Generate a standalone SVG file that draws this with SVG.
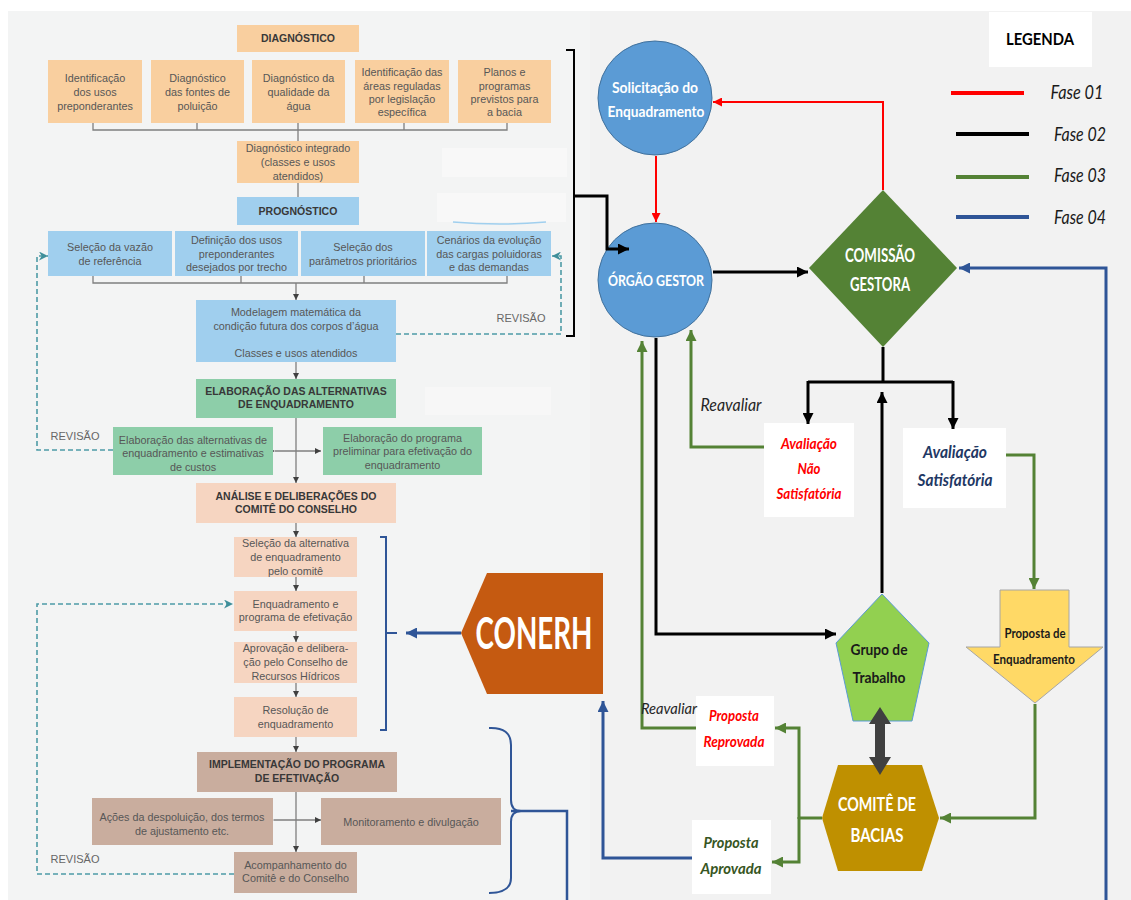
<svg xmlns="http://www.w3.org/2000/svg" width="1131" height="900" viewBox="0 0 1131 900">
  <defs>
    <style>
      .lp { font-family: "Liberation Sans", Arial, sans-serif; font-size: 10.8px; fill: #575757; text-anchor: middle; }
      .lh { font-family: "Liberation Sans", Arial, sans-serif; font-size: 10.5px; font-weight: bold; fill: #383838; text-anchor: middle; }
      .rev { font-family: "Liberation Sans", Arial, sans-serif; font-size: 11px; fill: #666; text-anchor: middle; }
      .rt { font-family: Lato, "Open Sans", sans-serif; font-weight: bold; text-anchor: middle; }
      .ri { font-family: Lato, "Open Sans", sans-serif; font-style: italic; text-anchor: middle; }
      .org { fill: #f9cf9f; }
      .blu { fill: #a0cfee; }
      .grn { fill: #8dcea9; }
      .pch { fill: #f6d5c1; }
      .brn { fill: #c9ad9e; }
      .wbox { fill: #ffffff; }
      .gline { fill: none; stroke: #7f7f7f; stroke-width: 1.3; }
      .dash { fill: none; stroke: #4e9ba6; stroke-width: 1.6; stroke-dasharray: 5 3; }
      .red { fill: none; stroke: #ff0000; stroke-width: 2; }
      .blk { fill: none; stroke: #000000; stroke-width: 3; }
      .grl { fill: none; stroke: #548235; stroke-width: 3; }
      .bll { fill: none; stroke: #2f5597; stroke-width: 3; }
    </style>
    <marker id="ag" viewBox="0 0 10 10" refX="10" refY="5" markerWidth="6" markerHeight="6" orient="auto" markerUnits="userSpaceOnUse">
      <path d="M0,0 L10,5 L0,10 z" fill="#404040"/>
    </marker>
    <marker id="ags" viewBox="0 0 10 10" refX="0" refY="5" markerWidth="6" markerHeight="6" orient="auto-start-reverse" markerUnits="userSpaceOnUse">
      <path d="M10,0 L0,5 L10,10 z" fill="#404040"/>
    </marker>
    <marker id="at" viewBox="0 0 10 10" refX="10" refY="5" markerWidth="9" markerHeight="9" orient="auto" markerUnits="userSpaceOnUse">
      <path d="M0,0 L10,5 L0,10 L3,5 z" fill="#3f8f9a"/>
    </marker>
    <marker id="ar" viewBox="0 0 10 10" refX="10" refY="5" markerWidth="9" markerHeight="9" orient="auto" markerUnits="userSpaceOnUse">
      <path d="M0,0 L10,5 L0,10 z" fill="#ff0000"/>
    </marker>
    <marker id="ak" viewBox="0 0 10 10" refX="10" refY="5" markerWidth="11" markerHeight="11" orient="auto" markerUnits="userSpaceOnUse">
      <path d="M0,0 L10,5 L0,10 z" fill="#000000"/>
    </marker>
    <marker id="agr" viewBox="0 0 10 10" refX="10" refY="5" markerWidth="11" markerHeight="11" orient="auto" markerUnits="userSpaceOnUse">
      <path d="M0,0 L10,5 L0,10 z" fill="#548235"/>
    </marker>
    <marker id="abl" viewBox="0 0 10 10" refX="10" refY="5" markerWidth="11" markerHeight="11" orient="auto" markerUnits="userSpaceOnUse">
      <path d="M0,0 L10,5 L0,10 z" fill="#2f5597"/>
    </marker>
  </defs>

  <!-- page -->
  <rect x="0" y="0" width="1131" height="900" fill="#ffffff"/>
  <rect x="8" y="11" width="1123" height="889" fill="#f2f2f2"/>
  <rect x="8" y="11" width="582" height="889" fill="#f3f4f4"/>
  <!-- faint leftover panels -->
  <rect x="442" y="148" width="125" height="29" fill="#f8f8f8"/>
  <rect x="437" y="193" width="129" height="29" fill="#f8f8f8"/>
  <path d="M453,222 Q500,226 546,222" fill="none" stroke="#a0cfee" stroke-width="1.5"/>
  <rect x="425" y="387" width="126" height="28" fill="#f7f7f7"/>

  <!-- ===== left column: process flow ===== -->
  <g id="connectors-left">
    <path class="gline" d="M93,123 V130 H507 V123 M197,123 V130 M404,123 V130 M298,123 V141"/>
    <path class="gline" d="M298,183 V197"/>
    <path class="gline" d="M93,276 V283 H507 V276 M241,276 V283 M364,276 V283"/>
    <path class="gline" d="M296,283 V300" marker-end="url(#ag)"/>
    <path class="gline" d="M296,362 V379" marker-end="url(#ag)"/>
    <path class="gline" d="M296,418 V483" marker-end="url(#ag)"/>
    <path class="gline" d="M275,451 H321" marker-start="url(#ags)" marker-end="url(#ag)"/>
    <path class="gline" d="M296,523 V537" marker-end="url(#ag)"/>
    <path class="gline" d="M296,577 V591" marker-end="url(#ag)"/>
    <path class="gline" d="M296,631 V642" marker-end="url(#ag)"/>
    <path class="gline" d="M296,683 V697" marker-end="url(#ag)"/>
    <path class="gline" d="M296,737 V752" marker-end="url(#ag)"/>
    <path class="gline" d="M296,792 V852" marker-end="url(#ag)"/>
    <path class="gline" d="M274,820 H321" marker-start="url(#ags)" marker-end="url(#ag)"/>
    <!-- revision loops -->
    <path class="dash" d="M396,334 H561 V256 H552" marker-end="url(#at)"/>
    <path class="dash" d="M113,450 H37 V256 H48" marker-end="url(#at)"/>
    <path class="dash" d="M234,874 H37 V604 H233" marker-end="url(#at)"/>
  </g>

  <g id="diagnostico">
    <rect class="org" x="237" y="25" width="122" height="27"/>
    <text class="lh" x="298" y="42">DIAGNÓSTICO</text>
  </g>
  <g id="identificacao-usos">
    <rect class="org" x="48" y="60" width="94" height="63"/>
    <text class="lp" x="95" y="82">Identificação</text>
    <text class="lp" x="95" y="96">dos usos</text>
    <text class="lp" x="95" y="110">preponderantes</text>
  </g>
  <g id="fontes-poluicao">
    <rect class="org" x="151" y="60" width="93" height="63"/>
    <text class="lp" x="197.5" y="82">Diagnóstico</text>
    <text class="lp" x="197.5" y="96">das fontes de</text>
    <text class="lp" x="197.5" y="110">poluição</text>
  </g>
  <g id="qualidade-agua">
    <rect class="org" x="252" y="60" width="93" height="63"/>
    <text class="lp" x="298.5" y="82">Diagnóstico da</text>
    <text class="lp" x="298.5" y="96">qualidade da</text>
    <text class="lp" x="298.5" y="110">água</text>
  </g>
  <g id="areas-reguladas">
    <rect class="org" x="355" y="60" width="94" height="63"/>
    <text class="lp" x="402" y="76">Identificação das</text>
    <text class="lp" x="402" y="90">áreas reguladas</text>
    <text class="lp" x="402" y="103">por legislação</text>
    <text class="lp" x="402" y="116">específica</text>
  </g>
  <g id="planos-programas">
    <rect class="org" x="458" y="60" width="93" height="63"/>
    <text class="lp" x="504.5" y="76">Planos e</text>
    <text class="lp" x="504.5" y="90">programas</text>
    <text class="lp" x="504.5" y="103">previstos para</text>
    <text class="lp" x="504.5" y="116">a bacia</text>
  </g>
  <g id="diagnostico-integrado">
    <rect class="org" x="237" y="141" width="122" height="42"/>
    <text class="lp" x="298" y="152">Diagnóstico integrado</text>
    <text class="lp" x="298" y="166">(classes e usos</text>
    <text class="lp" x="298" y="180">atendidos)</text>
  </g>

  <g id="prognostico">
    <rect class="blu" x="237" y="197" width="122" height="28"/>
    <text class="lh" x="298" y="215">PROGNÓSTICO</text>
  </g>
  <g id="vazao-referencia">
    <rect class="blu" x="48" y="231" width="124" height="45"/>
    <text class="lp" x="110" y="251">Seleção da vazão</text>
    <text class="lp" x="110" y="265">de referência</text>
  </g>
  <g id="usos-desejados">
    <rect class="blu" x="175" y="231" width="123" height="45"/>
    <text class="lp" x="236.5" y="244">Definição dos usos</text>
    <text class="lp" x="236.5" y="258">preponderantes</text>
    <text class="lp" x="236.5" y="271">desejados por trecho</text>
  </g>
  <g id="parametros">
    <rect class="blu" x="301" y="231" width="124" height="45"/>
    <text class="lp" x="363" y="251">Seleção dos</text>
    <text class="lp" x="363" y="265">parâmetros prioritários</text>
  </g>
  <g id="cenarios">
    <rect class="blu" x="427" y="231" width="124" height="45"/>
    <text class="lp" x="489" y="244">Cenários da evolução</text>
    <text class="lp" x="489" y="258">das cargas poluidoras</text>
    <text class="lp" x="489" y="271">e das demandas</text>
  </g>
  <g id="modelagem">
    <rect class="blu" x="196" y="300" width="200" height="62"/>
    <text class="lp" x="296" y="316">Modelagem matemática da</text>
    <text class="lp" x="296" y="330">condição futura dos corpos d’água</text>
    <text class="lp" x="296" y="357">Classes e usos atendidos</text>
  </g>
  <text class="rev" x="521" y="322">REVISÃO</text>

  <g id="elaboracao">
    <rect class="grn" x="196" y="379" width="200" height="39"/>
    <text class="lh" x="296" y="395">ELABORAÇÃO DAS ALTERNATIVAS</text>
    <text class="lh" x="296" y="408">DE ENQUADRAMENTO</text>
  </g>
  <text class="rev" x="75" y="440">REVISÃO</text>
  <g id="alternativas-custos">
    <rect class="grn" x="113" y="427" width="160" height="48"/>
    <text class="lp" x="193" y="444">Elaboração das alternativas de</text>
    <text class="lp" x="193" y="457">enquadramento e estimativas</text>
    <text class="lp" x="193" y="471">de custos</text>
  </g>
  <g id="programa-preliminar">
    <rect class="grn" x="323" y="427" width="159" height="48"/>
    <text class="lp" x="402.5" y="442">Elaboração do programa</text>
    <text class="lp" x="402.5" y="455">preliminar para efetivação do</text>
    <text class="lp" x="402.5" y="469">enquadramento</text>
  </g>

  <g id="analise">
    <rect class="pch" x="196" y="483" width="200" height="40"/>
    <text class="lh" x="296" y="500">ANÁLISE E DELIBERAÇÕES DO</text>
    <text class="lh" x="296" y="513">COMITÊ DO CONSELHO</text>
  </g>
  <g id="selecao-alternativa">
    <rect class="pch" x="234" y="537" width="123" height="40"/>
    <text class="lp" x="295.5" y="547">Seleção da alternativa</text>
    <text class="lp" x="295.5" y="561">de enquadramento</text>
    <text class="lp" x="295.5" y="575">pelo comitê</text>
  </g>
  <g id="enquadramento-programa">
    <rect class="pch" x="234" y="591" width="123" height="40"/>
    <text class="lp" x="295.5" y="608">Enquadramento e</text>
    <text class="lp" x="295.5" y="621">programa de efetivação</text>
  </g>
  <g id="aprovacao">
    <rect class="pch" x="234" y="642" width="123" height="41"/>
    <text class="lp" x="295.5" y="652">Aprovação e delibera-</text>
    <text class="lp" x="295.5" y="666">ção pelo Conselho de</text>
    <text class="lp" x="295.5" y="680">Recursos Hídricos</text>
  </g>
  <g id="resolucao">
    <rect class="pch" x="234" y="697" width="123" height="40"/>
    <text class="lp" x="295.5" y="714">Resolução de</text>
    <text class="lp" x="295.5" y="728">enquadramento</text>
  </g>

  <g id="implementacao">
    <rect class="brn" x="197" y="752" width="200" height="40"/>
    <text class="lh" x="297" y="768">IMPLEMENTAÇÃO DO PROGRAMA</text>
    <text class="lh" x="297" y="782">DE EFETIVAÇÃO</text>
  </g>
  <g id="acoes-despoluicao">
    <rect class="brn" x="92" y="798" width="181" height="47"/>
    <text class="lp" x="182" y="821">Ações da despoluição, dos termos</text>
    <text class="lp" x="182" y="835">de ajustamento etc.</text>
  </g>
  <g id="monitoramento">
    <rect class="brn" x="321" y="798" width="180" height="47"/>
    <text class="lp" x="411" y="826">Monitoramento e divulgação</text>
  </g>
  <text class="rev" x="75" y="863">REVISÃO</text>
  <g id="acompanhamento">
    <rect class="brn" x="234" y="852" width="123" height="41"/>
    <text class="lp" x="295.5" y="869">Acompanhamento do</text>
    <text class="lp" x="295.5" y="882">Comitê e do Conselho</text>
  </g>

  <!-- ===== right side: actors and phases ===== -->
  <g id="solicitacao">
    <circle cx="655" cy="98" r="57" fill="#5b9bd5" stroke="#41719c" stroke-width="1"/>
    <text class="rt" x="655" y="93" font-size="16" fill="#fff" textLength="86" lengthAdjust="spacingAndGlyphs">Solicitação do</text>
    <text class="rt" x="656" y="117" font-size="16" fill="#fff" textLength="97" lengthAdjust="spacingAndGlyphs">Enquadramento</text>
  </g>
  <g id="orgao-gestor">
    <circle cx="655" cy="280" r="57" fill="#5b9bd5" stroke="#41719c" stroke-width="1"/>
    <text class="rt" x="656" y="286" font-size="16" fill="#fff" textLength="96" lengthAdjust="spacingAndGlyphs">ÓRGÃO GESTOR</text>
  </g>
  <g id="comissao-gestora">
    <polygon points="883,190 957,268 883,347 809,268" fill="#548235"/>
    <text class="rt" x="880" y="262" font-size="18" fill="#fff" textLength="70" lengthAdjust="spacingAndGlyphs">COMISSÃO</text>
    <text class="rt" x="880" y="291" font-size="18" fill="#fff" textLength="60" lengthAdjust="spacingAndGlyphs">GESTORA</text>
  </g>
  <g id="legenda">
    <rect x="989" y="12" width="103" height="55" fill="#fff"/>
    <text class="rt" x="1040" y="45" font-size="17" fill="#000" textLength="68" lengthAdjust="spacingAndGlyphs">LEGENDA</text>
    <line x1="951" y1="93" x2="1024" y2="93" stroke="#ff0000" stroke-width="4"/>
    <line x1="956" y1="134" x2="1029" y2="134" stroke="#000000" stroke-width="4"/>
    <line x1="956" y1="177" x2="1029" y2="177" stroke="#548235" stroke-width="4"/>
    <line x1="956" y1="217" x2="1029" y2="217" stroke="#2f5597" stroke-width="4"/>
    <text class="ri" x="1077" y="99" font-size="20" fill="#1a1a1a" textLength="53" lengthAdjust="spacingAndGlyphs">Fase 01</text>
    <text class="ri" x="1080" y="141" font-size="20" fill="#1a1a1a" textLength="52" lengthAdjust="spacingAndGlyphs">Fase 02</text>
    <text class="ri" x="1080" y="182" font-size="20" fill="#1a1a1a" textLength="52" lengthAdjust="spacingAndGlyphs">Fase 03</text>
    <text class="ri" x="1080" y="224" font-size="20" fill="#1a1a1a" textLength="52" lengthAdjust="spacingAndGlyphs">Fase 04</text>
  </g>
  <g id="avaliacao-nao-satisfatoria">
    <rect class="wbox" x="764" y="423" width="90" height="94"/>
    <text class="ri" x="809" y="449" font-size="15" font-weight="bold" fill="#ff0000" textLength="56" lengthAdjust="spacingAndGlyphs">Avaliação</text>
    <text class="ri" x="809" y="474" font-size="15" font-weight="bold" fill="#ff0000" textLength="23" lengthAdjust="spacingAndGlyphs">Não</text>
    <text class="ri" x="809" y="499" font-size="15" font-weight="bold" fill="#ff0000" textLength="65" lengthAdjust="spacingAndGlyphs">Satisfatória</text>
  </g>
  <g id="avaliacao-satisfatoria">
    <rect class="wbox" x="903" y="428" width="103" height="80"/>
    <text class="ri" x="955" y="458" font-size="17" font-weight="bold" fill="#1f3864" textLength="64" lengthAdjust="spacingAndGlyphs">Avaliação</text>
    <text class="ri" x="955" y="486" font-size="17" font-weight="bold" fill="#1f3864" textLength="75" lengthAdjust="spacingAndGlyphs">Satisfatória</text>
  </g>
  <g id="grupo-trabalho">
    <polygon points="882,594 929,643 912,721 853,721 836,643" fill="#92d050" stroke="#5b9bd5" stroke-width="1"/>
    <text class="rt" x="879" y="655" font-size="16" fill="#1a1a1a" textLength="57" lengthAdjust="spacingAndGlyphs">Grupo de</text>
    <text class="rt" x="879" y="683" font-size="16" fill="#1a1a1a" textLength="53" lengthAdjust="spacingAndGlyphs">Trabalho</text>
  </g>
  <g id="proposta-enquadramento">
    <polygon points="1000,590 1069,590 1069,647 1103,647 1035,703 966,647 1000,647" fill="#ffd966" stroke="#a6a6a6" stroke-width="1"/>
    <text class="rt" x="1035" y="638" font-size="14" fill="#1a1a1a" textLength="61" lengthAdjust="spacingAndGlyphs">Proposta de</text>
    <text class="rt" x="1034" y="664" font-size="14" fill="#1a1a1a" textLength="82" lengthAdjust="spacingAndGlyphs">Enquadramento</text>
  </g>
  <g id="comite-bacias">
    <polygon points="838,765 922,765 939,818 922,871 838,871 822,818" fill="#bf9000"/>
    <text class="rt" x="877" y="811" font-size="18" fill="#fff" textLength="78" lengthAdjust="spacingAndGlyphs">COMITÊ DE</text>
    <text class="rt" x="877" y="842" font-size="18" fill="#fff" textLength="53" lengthAdjust="spacingAndGlyphs">BACIAS</text>
  </g>
  <g id="proposta-reprovada">
    <rect class="wbox" x="696" y="696" width="78" height="70"/>
    <text class="ri" x="734" y="721" font-size="15" font-weight="bold" fill="#ff0000" textLength="50" lengthAdjust="spacingAndGlyphs">Proposta</text>
    <text class="ri" x="734" y="747" font-size="15" font-weight="bold" fill="#ff0000" textLength="61" lengthAdjust="spacingAndGlyphs">Reprovada</text>
  </g>
  <g id="proposta-aprovada">
    <rect class="wbox" x="692" y="820" width="79" height="74"/>
    <text class="ri" x="731" y="848" font-size="16" font-weight="bold" fill="#375623" textLength="55" lengthAdjust="spacingAndGlyphs">Proposta</text>
    <text class="ri" x="731" y="874" font-size="16" font-weight="bold" fill="#375623" textLength="61" lengthAdjust="spacingAndGlyphs">Aprovada</text>
  </g>
  <g id="conerh">
    <polygon points="461,633 487,573 603,573 603,694 487,694" fill="#c55a11"/>
    <text class="rt" x="534" y="649" font-size="44" fill="#fff" textLength="117" lengthAdjust="spacingAndGlyphs">CONERH</text>
  </g>

  <g id="connectors">
    <!-- brackets grouping the left-hand stages -->
    <path d="M566,50 L574,50 L574,336 L566,336" fill="none" stroke="#000" stroke-width="2"/>
    <path class="blk" d="M574,196 H607 V249 H629" stroke-width="2.5" marker-end="url(#ak)"/>
    <path d="M380,537 H386 V730 H380 M386,633 H397" fill="none" stroke="#2f5597" stroke-width="2"/>
    <path d="M489,728 Q511,727 511,745 L511,800 Q511,811 521,811 Q511,811 511,822 L511,878 Q511,893 489,893" fill="none" stroke="#2f5597" stroke-width="2"/>
    <path d="M511,811 H567 V900" fill="none" stroke="#2f5597" stroke-width="2.5"/>
    <path class="bll" d="M461,633 H406" marker-end="url(#abl)"/>
    <!-- phase 01 -->
    <path class="red" d="M656,156 V222" marker-end="url(#ar)"/>
    <path class="red" d="M883,190 V102 H713" marker-end="url(#ar)"/>
    <!-- phase 02 -->
    <path class="blk" d="M713,272 H808" marker-end="url(#ak)"/>
    <path class="blk" d="M883,347 V382 M808,382 H953"/>
    <path class="blk" d="M808,381 V424" marker-end="url(#ak)"/>
    <path class="blk" d="M953,381 V429" marker-end="url(#ak)"/>
    <path class="blk" d="M656,338 V634 H836" marker-end="url(#ak)"/>
    <path class="blk" d="M882,593 V392" marker-end="url(#ak)"/>
    <!-- phase 03 -->
    <path class="grl" d="M764,447 H691 V330" marker-end="url(#agr)"/>
    <path class="grl" d="M1006,455 H1034 V589" marker-end="url(#agr)"/>
    <path class="grl" d="M1035,704 V818 H940" marker-end="url(#agr)"/>
    <path class="grl" d="M822,818 H799 M799,819 V728 H775" marker-end="url(#agr)"/>
    <path class="grl" d="M799,817 V862 H772" marker-end="url(#agr)"/>
    <path class="grl" d="M696,728 H642 V341" marker-end="url(#agr)"/>
    <!-- phase 04 -->
    <path class="bll" d="M1106,900 V268 H959" marker-end="url(#abl)"/>
    <path class="bll" d="M692,858 H603 V701" marker-end="url(#abl)"/>
    <!-- two-way link between working group and basin committee -->
    <polygon points="880,707 891,724 885,724 885,757 891,757 880,775 869,757 875,757 875,724 869,724" fill="#404040"/>
  </g>

  <text class="ri" x="731" y="411" font-size="17" fill="#262626" textLength="61" lengthAdjust="spacingAndGlyphs">Reavaliar</text>
  <text class="ri" x="669" y="714" font-size="15" fill="#262626" textLength="56" lengthAdjust="spacingAndGlyphs">Reavaliar</text>
</svg>
